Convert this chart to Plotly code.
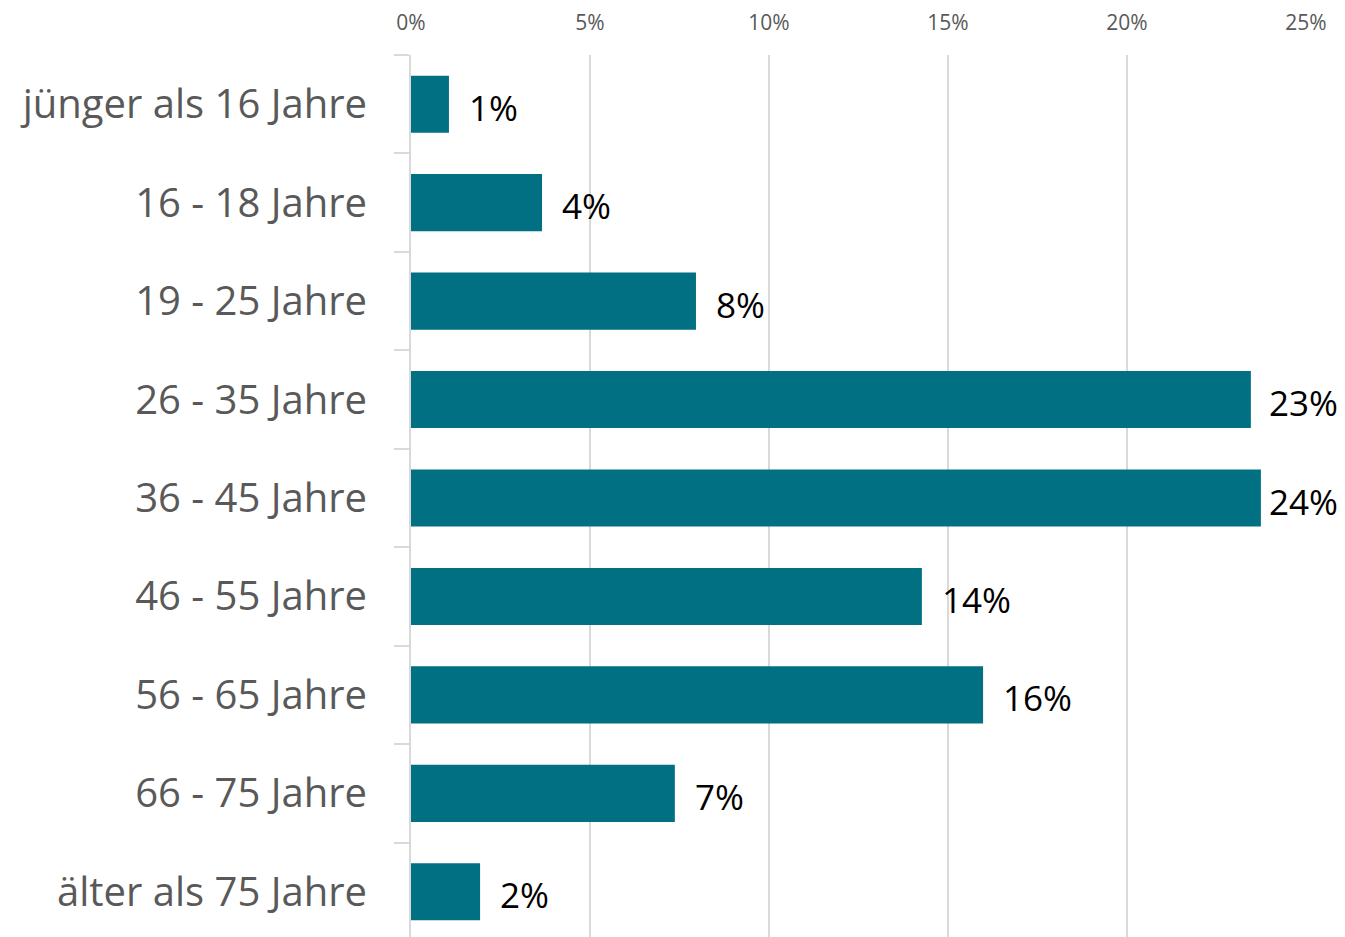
import plotly.graph_objects as go

categories = ["jünger als 16 Jahre", "16 - 18 Jahre", "19 - 25 Jahre", "26 - 35 Jahre",
              "36 - 45 Jahre", "46 - 55 Jahre", "56 - 65 Jahre", "66 - 75 Jahre",
              "älter als 75 Jahre"]
values = [1.06, 3.66, 7.96, 23.46, 23.74, 14.27, 15.98, 7.37, 1.93]  # percent
x_ticks = [0, 5, 10, 15, 20, 25]
x_tick_labels = ["0%", "5%", "10%", "15%", "20%", "25%"]

W, H = 1345, 937
PAGE_OFF = 8  # browser body margin
ML, MR, MT, MB = 403, 47, 47, 4
XMAX = 25.0
plot_w = W - ML - MR

BAR = "#007082"
GRID = "#d9d9d9"
FONT = "Open Sans"
VAL_SIZE = 35

fig = go.Figure()
fig.add_trace(go.Bar(
    y=categories, x=values, orientation="h", width=0.58,
    marker=dict(color=BAR, line=dict(width=0)),
    hoverinfo="skip",
))

# value labels to the right of the bars, kept inside the visible page
for c, v in zip(categories, values):
    txt = f"{round(v)}%"
    px_end = v / XMAX * plot_w
    est_w = 23.3 * len(txt)
    max_right = W - 2 * PAGE_OFF - ML
    left = min(px_end + 18, max_right - est_w)
    fig.add_annotation(x=v, y=c, xref="x", yref="y", text=txt, showarrow=False,
                       xanchor="left", yanchor="middle", xshift=left - px_end, yshift=-3,
                       font=dict(family=FONT, size=VAL_SIZE, color="#000000"))

fig.update_layout(
    width=W, height=H,
    margin=dict(l=ML, r=MR, t=MT, b=MB, autoexpand=False),
    plot_bgcolor="white", paper_bgcolor="white",
    showlegend=False, bargap=0.42,
    font=dict(family=FONT),
)
fig.update_xaxes(
    side="top", range=[0, XMAX], tickvals=x_ticks, ticktext=x_tick_labels,
    showgrid=True, gridcolor=GRID, gridwidth=1.5, zeroline=False,
    showline=False, ticks="", ticklabelstandoff=20,
    tickfont=dict(family=FONT, size=21, color="#595959"),
)
fig.update_yaxes(
    type="category", categoryorder="array", categoryarray=categories,
    range=[8.5, -0.5], showgrid=False, zeroline=False,
    showline=True, linecolor=GRID, linewidth=2,
    ticks="outside", tickson="boundaries", ticklen=15, tickcolor=GRID, tickwidth=2,
    ticklabelstandoff=34,
    tickfont=dict(family=FONT, size=40, color="#595959"),
)

fig.write_html("out.html")
